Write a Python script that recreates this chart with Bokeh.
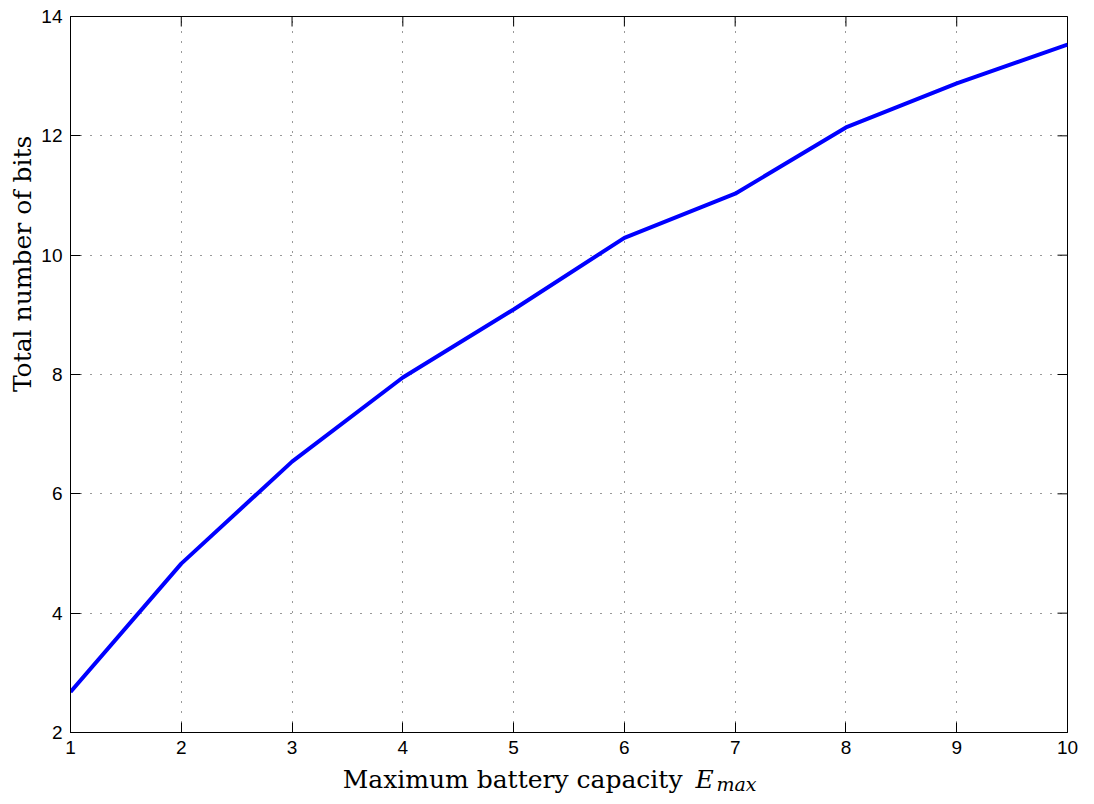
import math
from bokeh.plotting import figure
from bokeh.layouts import row, column
from bokeh.models import Range1d, FixedTicker, Label
from bokeh.embed import file_html
from bokeh.resources import INLINE

# Battery capacity sweep and resulting total number of bits
capacity = [1, 2, 3, 4, 5, 6, 7, 8, 9, 10]
total_bits = [2.68, 4.83, 6.54, 7.95, 9.09, 10.29, 11.03, 12.14, 12.88, 13.53]

x_ticks = [1, 2, 3, 4, 5, 6, 7, 8, 9, 10]
y_ticks = [2, 4, 6, 8, 10, 12, 14]
x_lo, x_hi = 1, 10
y_lo, y_hi = 2, 14

TOTAL_W, TOTAL_H = 1094, 804
LEFT_W = 37          # strip holding the y title
BOTTOM_H = 40        # strip holding the x title
MAIN_W = TOTAL_W - LEFT_W
MAIN_H = TOTAL_H - BOTTOM_H

serif = "DejaVu Serif"

# ---- main axes -------------------------------------------------------------
p = figure(
    width=MAIN_W, height=MAIN_H,
    x_range=Range1d(x_lo, x_hi), y_range=Range1d(y_lo, y_hi),
    output_backend="svg", toolbar_location=None,
    min_border_left=33, min_border_right=27,
    min_border_top=16, min_border_bottom=32,
)
p.background_fill_color = "white"
p.border_fill_color = "white"
p.outline_line_color = "black"
p.outline_line_width = 1

for ax, ticks in ((p.xaxis[0], x_ticks), (p.yaxis[0], y_ticks)):
    ax.ticker = FixedTicker(ticks=ticks)
    ax.axis_line_color = "black"
    ax.axis_line_width = 1
    ax.major_tick_in = 10
    ax.major_tick_out = 0
    ax.major_tick_line_color = "black"
    ax.minor_tick_line_color = None
    ax.major_label_standoff = 8
    ax.major_label_text_font = "Liberation Sans"
    ax.major_label_text_font_size = "19px"
    ax.major_label_text_color = "black"

for g, ticks in ((p.xgrid[0], x_ticks), (p.ygrid[0], y_ticks)):
    g.ticker = FixedTicker(ticks=ticks)
    g.grid_line_color = "#333333"
    g.grid_line_width = 1
    g.grid_line_dash = "1 9"

# inward tick marks on the top and right edges of the box
p.scatter(x_ticks, [y_hi] * len(x_ticks), marker="dash", size=20,
          angle=math.pi / 2, line_color="black", line_width=1)
p.scatter([x_hi] * len(y_ticks), y_ticks, marker="dash", size=20,
          line_color="black", line_width=1)

p.line(capacity, total_bits, line_color="#0000ff", line_width=4)


def text_strip(w, h):
    f = figure(width=w, height=h, x_range=Range1d(0, w), y_range=Range1d(0, h),
               output_backend="svg", toolbar_location=None,
               x_axis_location=None, y_axis_location=None,
               min_border=0)
    f.grid.visible = False
    f.outline_line_color = None
    f.background_fill_color = "white"
    f.border_fill_color = "white"
    return f


# ---- y title strip ---------------------------------------------------------
left = text_strip(LEFT_W, MAIN_H)
left.add_layout(Label(x=22, y=MAIN_H - 264, text="Total number of bits",
                      text_font=serif, text_font_size="25px",
                      text_align="center", text_baseline="alphabetic",
                      angle=90, angle_units="deg", text_color="black"))

# ---- x title strip ---------------------------------------------------------
bottom = text_strip(TOTAL_W, BOTTOM_H)
bottom.add_layout(Label(x=682, y=25, text="Maximum battery capacity",
                        text_font=serif, text_font_size="25px",
                        text_align="right", text_baseline="alphabetic",
                        text_color="black"))
bottom.add_layout(Label(x=695, y=25, text="E", text_font=serif,
                        text_font_style="italic", text_font_size="25px",
                        text_align="left", text_baseline="alphabetic",
                        text_color="black"))
bottom.add_layout(Label(x=716, y=21, text="max", text_font=serif,
                        text_font_style="italic", text_font_size="19px",
                        text_align="left", text_baseline="alphabetic",
                        text_color="black"))

layout = column(row(left, p, spacing=0), bottom, spacing=0)

open("out.html", "w").write(file_html(layout, INLINE))
